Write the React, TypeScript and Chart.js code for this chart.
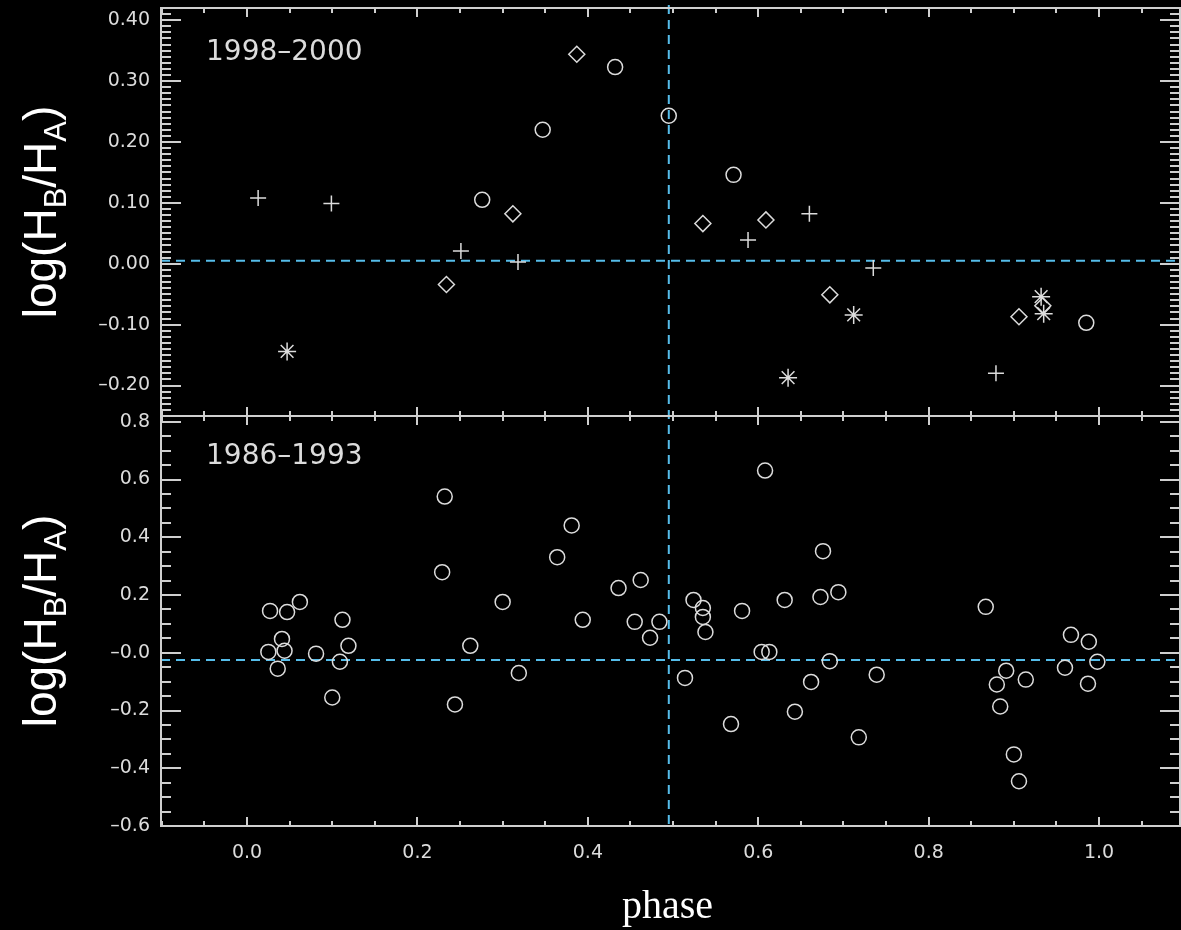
import React, { useEffect, useRef } from "react";
import { Chart, registerables } from "chart.js";

Chart.register(...registerables);

// ---------- axes ----------
const X_MIN = -0.101;
const X_MAX = 1.095;
const X_TICKS = [0, 0.2, 0.4, 0.6, 0.8, 1.0];
const X_TICK_LABELS = ["0.0", "0.2", "0.4", "0.6", "0.8", "1.0"];
const X_MINOR_STEP = 0.05;

const TOP_MIN = -0.25;
const TOP_MAX = 0.42;
const TOP_TICKS = [0.4, 0.3, 0.2, 0.1, 0.0, -0.1, -0.2];
const TOP_TICK_LABELS = ["0.40", "0.30", "0.20", "0.10", "0.00", "–0.10", "–0.20"];
const TOP_MINOR_STEP = 0.01;

const BOT_MIN = -0.6;
const BOT_MAX = 0.82;
const BOT_TICKS = [0.8, 0.6, 0.4, 0.2, 0.0, -0.2, -0.4, -0.6];
const BOT_TICK_LABELS = ["0.8", "0.6", "0.4", "0.2", "–0.0", "–0.2", "–0.4", "–0.6"];
const BOT_MINOR_STEP = 0.05;

// reference (dashed) lines
const PHASE_REF = 0.495;
const TOP_REF = 0.005;
const BOT_REF = -0.025;

const TOP_LABEL = "1998–2000";
const BOT_LABEL = "1986–1993";
const X_TITLE = "phase";

// ---------- data: [phase, log(HB/HA)] ----------
const TOP_PLUS: [number, number][] = [
  [0.013, 0.108], [0.099, 0.099], [0.251, 0.021], [0.318, 0.003],
  [0.588, 0.039], [0.660, 0.082], [0.735, -0.007], [0.879, -0.180],
];
const TOP_DIAMOND: [number, number][] = [
  [0.234, -0.034], [0.312, 0.082], [0.387, 0.344], [0.535, 0.066],
  [0.609, 0.072], [0.684, -0.051], [0.906, -0.087], [0.934, -0.069],
];
const TOP_CIRCLE: [number, number][] = [
  [0.276, 0.105], [0.347, 0.220], [0.432, 0.323], [0.495, 0.243],
  [0.571, 0.146], [0.985, -0.097],
];
const TOP_STAR: [number, number][] = [
  [0.047, -0.144], [0.635, -0.187], [0.712, -0.084], [0.932, -0.054], [0.935, -0.082],
];
const BOT_CIRCLE: [number, number][] = [
  [0.025, 0.003], [0.027, 0.145], [0.036, -0.055], [0.041, 0.048], [0.044, 0.007],
  [0.047, 0.141], [0.062, 0.176], [0.081, -0.003], [0.100, -0.155], [0.109, -0.031],
  [0.112, 0.114], [0.119, 0.024], [0.229, 0.279], [0.232, 0.541], [0.244, -0.179],
  [0.262, 0.024], [0.300, 0.176], [0.319, -0.070], [0.364, 0.331], [0.381, 0.441],
  [0.394, 0.114], [0.436, 0.224], [0.455, 0.107], [0.462, 0.252], [0.473, 0.052],
  [0.484, 0.107], [0.514, -0.087], [0.524, 0.183], [0.535, 0.155], [0.535, 0.124],
  [0.538, 0.072], [0.568, -0.247], [0.581, 0.145], [0.604, 0.003], [0.613, 0.003],
  [0.608, 0.631], [0.631, 0.183], [0.643, -0.204], [0.662, -0.101], [0.673, 0.193],
  [0.676, 0.352], [0.684, -0.029], [0.694, 0.210], [0.718, -0.293], [0.739, -0.076],
  [0.867, 0.159], [0.880, -0.110], [0.884, -0.186], [0.891, -0.062], [0.900, -0.352],
  [0.906, -0.445], [0.914, -0.093], [0.960, -0.052], [0.967, 0.062], [0.987, -0.107],
  [0.988, 0.038], [0.998, -0.031],
];

// ---------- styles ----------
const FG = "#dcdcdc";
const AXIS = "#cfcfcf";
const DASH = "#56bdea";
const TICK_FONT = { family: "'DejaVu Sans', sans-serif", size: 19 };

const pts = (arr: [number, number][]) => arr.map(([x, y]) => ({ x, y }));

function minorValues(min: number, max: number, step: number) {
  const out: number[] = [];
  const i0 = Math.ceil(min / step - 1e-6);
  const i1 = Math.floor(max / step + 1e-6);
  for (let i = i0; i <= i1; i++) out.push(i * step);
  return out;
}

const idlPlugin = {
  id: "idlFrame",
  beforeDatasetsDraw(chart: any) {
    const { ctx, chartArea } = chart;
    const xs = chart.scales.x;
    const yt = chart.scales.yTop;
    const yb = chart.scales.yBot;
    ctx.save();
    ctx.strokeStyle = DASH;
    ctx.lineWidth = 2;
    ctx.setLineDash([9, 6]);
    const h1 = yt.getPixelForValue(TOP_REF);
    const h2 = yb.getPixelForValue(BOT_REF);
    const v = xs.getPixelForValue(PHASE_REF);
    ctx.beginPath();
    ctx.moveTo(chartArea.left, h1);
    ctx.lineTo(chartArea.right, h1);
    ctx.moveTo(chartArea.left, h2);
    ctx.lineTo(chartArea.right, h2);
    ctx.moveTo(v, chartArea.top - 3);
    ctx.lineTo(v, chartArea.bottom);
    ctx.stroke();
    ctx.restore();
  },
  afterDatasetsDraw(chart: any) {
    const { ctx, chartArea } = chart;
    const xs = chart.scales.x;
    const panels = [
      { s: chart.scales.yTop, ticks: TOP_TICKS, step: TOP_MINOR_STEP, min: TOP_MIN, max: TOP_MAX },
      { s: chart.scales.yBot, ticks: BOT_TICKS, step: BOT_MINOR_STEP, min: BOT_MIN, max: BOT_MAX },
    ];
    const L = chartArea.left;
    const R = chartArea.right;
    ctx.save();
    ctx.strokeStyle = AXIS;
    ctx.lineWidth = 2;
    ctx.setLineDash([]);
    for (const p of panels) {
      const T = p.s.top;
      const B = p.s.bottom;
      ctx.strokeRect(L, T, R - L, B - T);
      ctx.beginPath();
      for (const v of minorValues(p.min, p.max, p.step)) {
        const y = Math.round(p.s.getPixelForValue(v));
        const major = p.ticks.some((t) => Math.abs(t - v) < 1e-6);
        const len = major ? 20 : 10;
        ctx.moveTo(L, y);
        ctx.lineTo(L + len, y);
        ctx.moveTo(R, y);
        ctx.lineTo(R - len, y);
      }
      for (const v of minorValues(X_MIN, X_MAX, X_MINOR_STEP)) {
        const x = Math.round(xs.getPixelForValue(v));
        const major = X_TICKS.some((t) => Math.abs(t - v) < 1e-6);
        const len = major ? 9 : 5;
        ctx.moveTo(x, T);
        ctx.lineTo(x, T + len);
        ctx.moveTo(x, B);
        ctx.lineTo(x, B - len);
      }
      ctx.stroke();
    }
    ctx.restore();
  },
  afterDraw(chart: any) {
    const { ctx, chartArea } = chart;
    const yt = chart.scales.yTop;
    const yb = chart.scales.yBot;
    ctx.save();
    ctx.fillStyle = FG;
    ctx.textBaseline = "middle";
    ctx.textAlign = "left";
    ctx.font = "28px 'DejaVu Sans', sans-serif";
    ctx.fillText(TOP_LABEL, chartArea.left + 45, yt.top + 45);
    ctx.fillText(BOT_LABEL, chartArea.left + 45, yb.top + 41);

    const drawTitle = (cy: number) => {
      ctx.save();
      ctx.translate(56, cy);
      ctx.rotate(-Math.PI / 2);
      ctx.fillStyle = "#ffffff";
      ctx.textBaseline = "alphabetic";
      ctx.textAlign = "left";
      const big = "46px 'Liberation Sans', Arial, sans-serif";
      const small = "31px 'Liberation Sans', Arial, sans-serif";
      const parts: [string, string, number][] = [
        ["log(H", big, 0],
        ["B", small, 10],
        ["/H", big, 0],
        ["A", small, 10],
        [")", big, 0],
      ];
      let total = 0;
      for (const [t, f] of parts) {
        ctx.font = f;
        total += ctx.measureText(t).width;
      }
      let x = -total / 2;
      for (const [t, f, dy] of parts) {
        ctx.font = f;
        ctx.fillText(t, x, dy);
        x += ctx.measureText(t).width;
      }
      ctx.restore();
    };
    drawTitle((yt.top + yt.bottom) / 2);
    drawTitle((yb.top + yb.bottom) / 2);

    ctx.fillStyle = "#ffffff";
    ctx.textAlign = "center";
    ctx.textBaseline = "alphabetic";
    ctx.font = "40px 'Liberation Serif', 'Times New Roman', serif";
    ctx.fillText(X_TITLE, (chartArea.left + chartArea.right) / 2 - 3, 918);
    ctx.restore();
  },
};

const pointDs = (data: [number, number][], yAxisID: string, style: string, radius: number) => ({
  data: pts(data),
  xAxisID: "x",
  yAxisID,
  showLine: false,
  pointStyle: style,
  pointRadius: radius,
  pointHoverRadius: radius,
  pointBorderColor: FG,
  pointBackgroundColor: "rgba(0,0,0,0)",
  pointBorderWidth: 1.5,
  borderColor: FG,
  backgroundColor: "rgba(0,0,0,0)",
});

const yScale = (
  min: number,
  max: number,
  ticks: number[],
  labels: string[],
  weight: number,
  stackWeight: number
) => ({
  type: "linear",
  position: "left",
  stack: "panels",
  stackWeight,
  weight,
  min,
  max,
  afterBuildTicks: (s: any) => {
    s.ticks = ticks.map((v) => ({ value: v }));
  },
  afterFit: (s: any) => {
    s.width = 161;
    s.paddingTop = 0;
    s.paddingBottom = 0;
  },
  ticks: {
    color: FG,
    font: TICK_FONT,
    padding: 11,
    autoSkip: false,
    callback: (v: number) => {
      const i = ticks.findIndex((t) => Math.abs(t - v) < 1e-9);
      return i >= 0 ? labels[i] : "";
    },
  },
  grid: { display: false, drawTicks: false },
  border: { display: false },
});

export default function App() {
  const ref = useRef<HTMLCanvasElement | null>(null);
  useEffect(() => {
    if (!ref.current) return;
    const chart = new Chart(ref.current, {
      type: "scatter",
      data: {
        datasets: [
          pointDs(TOP_PLUS, "yTop", "cross", 8),
          pointDs(TOP_DIAMOND, "yTop", "rectRot", 8),
          pointDs(TOP_CIRCLE, "yTop", "circle", 7.5),
          pointDs(TOP_STAR, "yTop", "star", 9),
          pointDs(BOT_CIRCLE, "yBot", "circle", 7.5),
        ] as any,
      },
      options: {
        animation: false,
        responsive: false,
        devicePixelRatio: 1,
        layout: { autoPadding: false, padding: { top: 8, right: 1, left: 0, bottom: 0 } },
        plugins: { legend: { display: false }, tooltip: { enabled: false } },
        events: [],
        scales: {
          x: {
            type: "linear",
            position: "bottom",
            min: X_MIN,
            max: X_MAX,
            afterBuildTicks: (s: any) => {
              s.ticks = X_TICKS.map((v) => ({ value: v }));
            },
            afterFit: (s: any) => {
              s.height = 104;
              s.paddingLeft = 0;
              s.paddingRight = 0;
            },
            ticks: {
              color: FG,
              font: TICK_FONT,
              padding: 16,
              maxRotation: 0,
              autoSkip: false,
              callback: (v: number) => {
                const i = X_TICKS.findIndex((t) => Math.abs(t - v) < 1e-9);
                return i >= 0 ? X_TICK_LABELS[i] : "";
              },
            },
            grid: { display: false, drawTicks: false },
            border: { display: false },
          },
          yTop: yScale(TOP_MIN, TOP_MAX, TOP_TICKS, TOP_TICK_LABELS, 2, 408),
          yBot: yScale(BOT_MIN, BOT_MAX, BOT_TICKS, BOT_TICK_LABELS, 1, 410),
        } as any,
      },
      plugins: [idlPlugin],
    });
    return () => chart.destroy();
  }, []);
  return (
    <div
      style={{
        position: "absolute",
        left: 0,
        top: 0,
        width: 1181,
        height: 930,
        background: "#000",
        overflow: "hidden",
      }}
    >
      <canvas ref={ref} width={1181} height={930} style={{ display: "block" }} />
    </div>
  );
}
